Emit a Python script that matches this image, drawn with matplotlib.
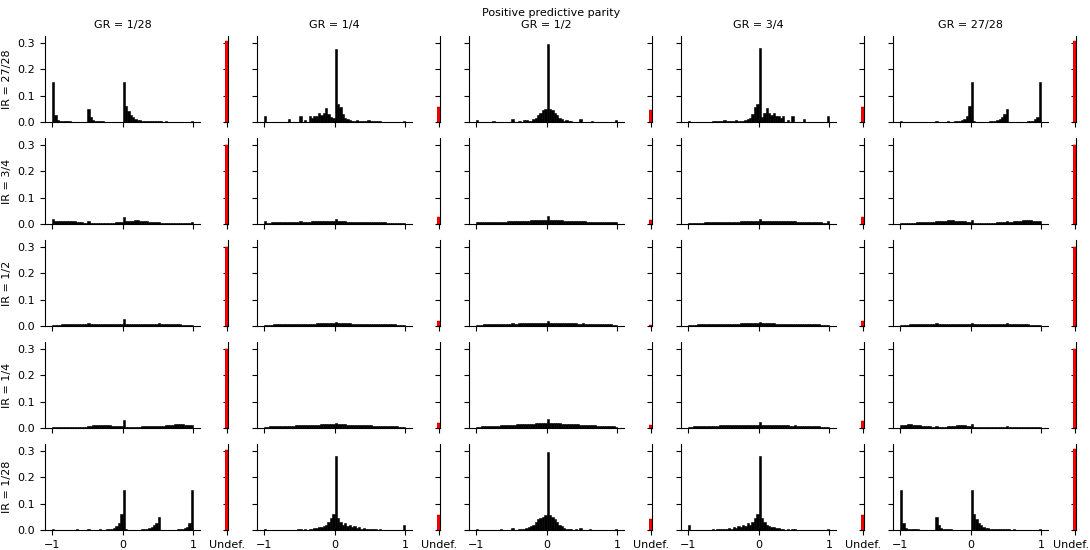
import numpy as np
import matplotlib.pyplot as plt

plt.rcParams['font.size'] = 8

title = 'Positive predictive parity'
gr_labels = ['1/28', '1/4', '1/2', '3/4', '27/28']
ir_labels = ['27/28', '3/4', '1/2', '1/4', '1/28']
bin_edges = np.linspace(-1, 1, 61)

# bin heights (in thousandths), 60 bins from -1 to 1
ir2728_gr128 = [150, 25, 8, 5, 3, 2, 2, 2, 1, 1, 1, 1, 1, 1, 1,
                50, 20, 8, 5, 3, 2, 2, 1, 1, 1, 1, 1, 1, 1, 1,
                150, 62, 42, 28, 18, 12, 8, 6, 5, 4, 3, 5, 2, 4, 2,
                3, 2, 1, 5, 1, 1, 1, 1, 1, 1, 1, 1, 1, 1, 5]
ir2728_gr14 = [22, 0, 0, 0, 0, 0, 0, 0, 0, 0, 10, 0, 0, 0, 0,
               22, 0, 8, 0, 24, 14, 24, 22, 33, 26, 35, 52, 30, 20, 15,
               275, 70, 55, 30, 15, 10, 8, 5, 5, 6, 4, 5, 3, 3, 8,
               2, 2, 2, 2, 3, 1, 1, 1, 1, 1, 1, 1, 1, 1, 5]
ir2728_gr12 = [8, 0, 0, 0, 0, 0, 0, 3, 0, 0, 0, 0, 0, 0, 0,
               10, 0, 0, 5, 0, 8, 8, 3, 5, 10, 15, 25, 35, 45, 50,
               295, 50, 45, 35, 25, 15, 10, 5, 8, 3, 5, 0, 0, 0, 10,
               0, 0, 0, 0, 3, 0, 0, 0, 0, 0, 0, 0, 0, 0, 8]
ir2728_gr34 = [5, 1, 1, 1, 1, 1, 1, 1, 1, 1, 3, 2, 2, 2, 2,
               8, 3, 3, 4, 5, 6, 4, 5, 5, 8, 10, 15, 30, 55, 70,
               280, 20, 35, 52, 35, 26, 33, 22, 24, 14, 24, 0, 8, 0, 22,
               0, 0, 0, 0, 10, 0, 0, 0, 0, 0, 0, 0, 0, 0, 22]
ir2728_gr2728 = [5, 1, 1, 1, 1, 1, 1, 1, 1, 1, 1, 1, 1, 1, 1,
                 3, 1, 1, 1, 1, 4, 1, 1, 2, 3, 4, 6, 10, 22, 60,
                 150, 2, 1, 1, 1, 1, 1, 1, 2, 3, 5, 8, 12, 20, 30,
                 50, 1, 1, 1, 1, 1, 1, 1, 1, 2, 3, 5, 10, 20, 150]

ir34_gr128 = [20, 10, 10, 11, 12, 13, 13, 12, 11, 10, 8, 7, 6, 5, 5,
              10, 5, 5, 5, 5, 4, 4, 5, 5, 5, 5, 5, 6, 6, 6,
              28, 10, 11, 12, 13, 14, 14, 13, 12, 11, 10, 9, 8, 7, 6,
              8, 5, 5, 5, 5, 5, 5, 4, 4, 4, 4, 4, 4, 4, 6]
ir34_gr14 = [12, 5, 5, 6, 6, 6, 7, 7, 7, 7, 8, 8, 8, 8, 8,
             10, 8, 9, 9, 9, 10, 10, 10, 10, 10, 10, 10, 10, 10, 10,
             20, 10, 10, 10, 10, 9, 9, 9, 9, 8, 8, 8, 8, 7, 7,
             8, 7, 6, 6, 6, 6, 6, 5, 5, 5, 5, 5, 5, 5, 5]
ir34_gr12 = [8, 6, 6, 6, 7, 7, 7, 8, 8, 8, 9, 9, 9, 10, 10,
             12, 10, 11, 11, 12, 12, 13, 13, 14, 14, 15, 15, 15, 15, 15,
             30, 15, 15, 15, 15, 14, 14, 13, 13, 12, 12, 11, 11, 10, 10,
             12, 10, 9, 9, 9, 8, 8, 8, 7, 7, 7, 6, 6, 6, 8]
ir34_gr34 = [5, 5, 5, 5, 5, 5, 5, 6, 6, 6, 6, 7, 7, 8, 8,
             8, 8, 8, 9, 9, 9, 9, 10, 10, 10, 10, 10, 10, 10, 10,
             18, 10, 10, 11, 11, 11, 12, 12, 12, 12, 12, 11, 11, 10, 10,
             10, 9, 9, 8, 8, 8, 7, 7, 6, 6, 6, 6, 5, 5, 12]
ir34_gr2728 = [5, 5, 5, 5, 5, 5, 5, 6, 6, 6, 6, 6, 6, 8, 8,
               10, 10, 11, 12, 13, 14, 14, 14, 13, 12, 12, 11, 10, 8, 7,
               15, 5, 5, 5, 5, 5, 5, 5, 5, 5, 5, 6, 6, 6, 6,
               10, 8, 9, 10, 11, 12, 13, 14, 15, 15, 14, 13, 12, 10, 10]

ir12_gr128 = [5, 5, 5, 5, 6, 6, 6, 6, 6, 7, 7, 7, 7, 8, 8,
              10, 8, 8, 7, 7, 7, 6, 6, 6, 6, 6, 6, 6, 6, 6,
              25, 6, 6, 6, 6, 6, 6, 6, 6, 7, 7, 7, 8, 8, 8,
              10, 8, 8, 7, 7, 7, 6, 6, 6, 6, 5, 5, 5, 5, 5]
ir12_gr14 = [5, 5, 5, 5, 6, 6, 6, 6, 7, 7, 7, 7, 8, 8, 8,
             9, 8, 8, 9, 9, 9, 9, 10, 10, 10, 10, 10, 10, 10, 10,
             15, 10, 10, 10, 10, 10, 10, 9, 9, 9, 9, 9, 8, 8, 8,
             9, 8, 8, 7, 7, 7, 7, 6, 6, 6, 6, 5, 5, 5, 5]
ir12_gr12 = [5, 5, 5, 6, 6, 6, 6, 7, 7, 7, 7, 8, 8, 8, 9,
             10, 9, 9, 10, 10, 10, 11, 11, 11, 11, 12, 12, 12, 12, 12,
             18, 12, 12, 12, 12, 12, 11, 11, 11, 11, 10, 10, 10, 9, 9,
             10, 9, 8, 8, 8, 7, 7, 7, 7, 6, 6, 6, 6, 5, 5]
ir12_gr34 = [5, 5, 5, 5, 6, 6, 6, 6, 7, 7, 7, 7, 8, 8, 8,
             9, 8, 8, 9, 9, 9, 9, 10, 10, 10, 10, 10, 10, 10, 10,
             15, 10, 10, 10, 10, 10, 10, 9, 9, 9, 9, 9, 8, 8, 8,
             9, 8, 8, 7, 7, 7, 7, 6, 6, 6, 6, 5, 5, 5, 5]
ir12_gr2728 = [5, 5, 5, 5, 6, 6, 6, 6, 6, 7, 7, 7, 7, 8, 8,
               10, 8, 8, 7, 7, 7, 6, 6, 6, 6, 6, 6, 6, 6, 6,
               12, 6, 6, 6, 6, 6, 6, 6, 6, 7, 7, 7, 8, 8, 8,
               10, 8, 8, 7, 7, 7, 6, 6, 6, 6, 5, 5, 5, 5, 5]

ir14_gr128 = [5, 4, 4, 4, 4, 4, 4, 4, 5, 5, 5, 5, 5, 5, 5,
              8, 8, 10, 11, 12, 13, 13, 12, 11, 10, 8, 7, 6, 6, 6,
              30, 5, 5, 5, 5, 5, 5, 5, 6, 6, 6, 6, 6, 7, 7,
              8, 8, 9, 10, 11, 12, 13, 14, 15, 15, 14, 13, 12, 11, 10]
ir14_gr14 = [5, 5, 6, 6, 6, 7, 7, 7, 8, 8, 8, 9, 9, 10, 10,
             11, 11, 11, 12, 12, 12, 13, 13, 13, 14, 14, 14, 15, 15, 15,
             20, 15, 14, 14, 14, 13, 13, 13, 12, 12, 12, 11, 11, 10, 10,
             11, 9, 9, 8, 8, 8, 7, 7, 7, 6, 6, 6, 5, 5, 5]
ir14_gr12 = [5, 5, 6, 6, 7, 7, 8, 8, 9, 9, 10, 10, 11, 11, 12,
             13, 13, 14, 14, 15, 15, 16, 16, 17, 17, 18, 18, 19, 19, 20,
             35, 20, 19, 19, 18, 18, 17, 17, 16, 16, 15, 15, 14, 14, 13,
             13, 12, 11, 11, 10, 10, 9, 9, 8, 8, 7, 7, 6, 6, 5]
ir14_gr34 = [5, 5, 6, 6, 6, 7, 7, 7, 8, 8, 8, 9, 9, 10, 10,
             11, 10, 11, 11, 12, 12, 12, 12, 13, 13, 13, 13, 13, 13, 13,
             22, 13, 13, 12, 12, 12, 12, 11, 11, 11, 10, 10, 10, 9, 9,
             10, 9, 8, 8, 8, 7, 7, 7, 6, 6, 6, 5, 5, 5, 5]
ir14_gr2728 = [10, 12, 13, 14, 14, 13, 12, 11, 10, 8, 7, 6, 6, 5, 5,
               8, 5, 5, 5, 5, 6, 7, 8, 9, 10, 10, 10, 10, 9, 8,
               15, 5, 5, 5, 5, 5, 5, 5, 5, 4, 4, 4, 4, 4, 4,
               6, 4, 4, 4, 4, 4, 4, 4, 4, 4, 4, 4, 4, 4, 5]

ir128_gr128 = [5, 1, 1, 1, 1, 1, 1, 1, 1, 1, 2, 1, 1, 1, 1,
               4, 1, 1, 1, 1, 2, 1, 1, 2, 3, 5, 8, 14, 25, 62,
               150, 2, 1, 1, 1, 1, 1, 1, 2, 2, 4, 6, 10, 18, 25,
               50, 1, 1, 1, 1, 1, 1, 1, 2, 2, 4, 6, 12, 25, 150]
ir128_gr14 = [5, 0, 0, 0, 0, 0, 0, 0, 0, 0, 0, 0, 0, 0, 3,
              5, 0, 3, 0, 5, 5, 8, 8, 10, 12, 15, 20, 30, 45, 60,
              280, 45, 30, 20, 25, 15, 20, 10, 15, 8, 10, 5, 8, 3, 5,
              3, 2, 2, 0, 3, 0, 0, 0, 0, 0, 0, 0, 0, 0, 20]
ir128_gr12 = [5, 0, 0, 0, 0, 0, 0, 0, 0, 0, 3, 0, 0, 0, 0,
              8, 0, 0, 3, 5, 5, 8, 10, 15, 20, 30, 40, 45, 50, 55,
              295, 55, 50, 40, 30, 20, 15, 8, 5, 5, 3, 0, 3, 0, 8,
              0, 0, 0, 3, 0, 0, 0, 0, 0, 0, 0, 0, 0, 0, 5]
ir128_gr34 = [20, 0, 0, 0, 0, 0, 0, 0, 0, 0, 3, 0, 2, 2, 3,
              5, 3, 8, 5, 10, 8, 15, 10, 20, 15, 25, 20, 30, 45, 60,
              280, 45, 30, 20, 15, 12, 10, 8, 8, 5, 5, 0, 3, 0, 5,
              3, 0, 0, 0, 0, 0, 0, 0, 0, 0, 0, 0, 0, 0, 5]
ir128_gr2728 = [150, 25, 8, 5, 3, 2, 2, 2, 1, 1, 1, 1, 1, 1, 1,
                50, 20, 8, 5, 3, 2, 2, 1, 1, 1, 1, 1, 1, 1, 1,
                150, 62, 42, 28, 18, 12, 8, 6, 5, 4, 3, 5, 2, 4, 2,
                3, 2, 1, 5, 1, 1, 1, 1, 1, 1, 1, 1, 1, 1, 5]

# share of undefined values per panel (thousandths)
undef_ir2728 = [306, 56, 45, 56, 307]
undef_ir34 = [301, 25, 15, 25, 301]
undef_ir12 = [300, 20, 5, 20, 300]
undef_ir14 = [300, 20, 10, 25, 300]
undef_ir128 = [304, 55, 40, 55, 308]

grid = [[ir2728_gr128, ir2728_gr14, ir2728_gr12, ir2728_gr34, ir2728_gr2728],
        [ir34_gr128, ir34_gr14, ir34_gr12, ir34_gr34, ir34_gr2728],
        [ir12_gr128, ir12_gr14, ir12_gr12, ir12_gr34, ir12_gr2728],
        [ir14_gr128, ir14_gr14, ir14_gr12, ir14_gr34, ir14_gr2728],
        [ir128_gr128, ir128_gr14, ir128_gr12, ir128_gr34, ir128_gr2728]]
undef = [undef_ir2728, undef_ir34, undef_ir12, undef_ir14, undef_ir128]

W, H = 1090, 550
fig = plt.figure(figsize=(W / 100, H / 100), dpi=100)

for i in range(5):
    bottom = (H - 122 - 102 * i) / H
    for j in range(5):
        ax = fig.add_axes([(45 + 212 * j) / W, bottom, 155 / W, 86 / H])
        heights = np.array(grid[i][j]) / 1000
        ax.bar(bin_edges[:-1], heights, width=np.diff(bin_edges), align='edge',
               color='black', edgecolor='black', linewidth=0.4)
        ax.set_xlim(-1.1, 1.1)
        ax.set_ylim(0, 0.326)
        ax.set_xticks([-1, 0, 1])
        ax.set_yticks([0, 0.1, 0.2, 0.3])
        ax.spines['top'].set_visible(False)
        ax.spines['right'].set_visible(False)
        if i < 4:
            ax.set_xticklabels([])
        if j > 0:
            ax.set_yticklabels([])
        else:
            ax.set_ylabel('IR = ' + ir_labels[i])
        if i == 0:
            ax.set_title('GR = ' + gr_labels[j], fontsize=8)

        # undefined share, narrow axis next to each histogram
        ua = fig.add_axes([(225 + 212 * j) / W, bottom, 3.3 / W, 86 / H])
        ua.bar([0], [undef[i][j] / 1000], width=1, color='red',
               edgecolor='#8b0000', linewidth=0.3, zorder=3)
        ua.set_xlim(-0.5, 0.5)
        ua.set_ylim(0, 0.326)
        ua.set_yticks([0, 0.1, 0.2, 0.3])
        ua.set_xticks([0])
        ua.spines['top'].set_visible(False)
        ua.spines['left'].set_visible(False)
        ua.yaxis.tick_right()
        ua.tick_params(axis='y', direction='in', labelright=False)
        if i < 4 or j == 4:
            ua.set_xticklabels([])
        else:
            ua.set_xticklabels(['Undef.'])

# last label sits at the canvas edge, nudge it a little left
fig.text(1071 / W, 1 - 540 / H, 'Undef.', ha='center', va='top', fontsize=8)
fig.text(551 / W, 1 - 13 / H, title, ha='center', va='center', fontsize=8)

fig.savefig('out.png', dpi=100)
